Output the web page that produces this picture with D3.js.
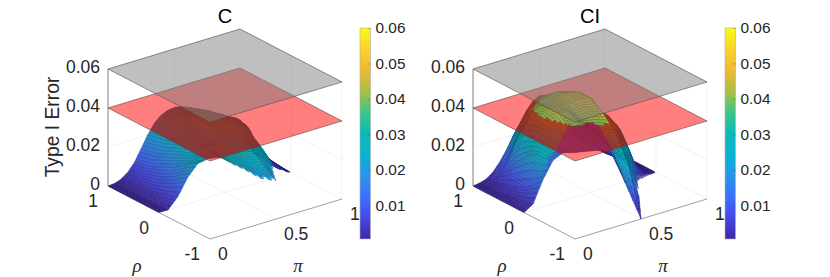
<!DOCTYPE html>
<html><head><meta charset="utf-8">
<script src="https://cdn.jsdelivr.net/npm/d3@7/dist/d3.min.js"></script>
<style>html,body{margin:0;background:#fff}svg{display:block}text{font-family:"Liberation Sans",Arial,sans-serif;fill:#262626}</style>
</head><body><svg id="c" width="830" height="277"></svg>
<script>
// --- data ---
const piValues=[0,.05,.1,.15,.2,.25,.3,.35,.4,.45,.5,.55,.6,.65,.7,.75,.8,.85,.9,.95,1];
const rhoLowerBound=[0,-.05,-.11,-.18,-.25,-.33,-.43,-.54,-.67,-.82,-1,-.82,-.67,-.54,-.43,-.33,-.25,-.18,-.11,-.05,0];
const rowFractions=[0,.125,.25,.375,.5,.625,.75,.875,1];
const errorC=[
[0,.001,.0075,.0175,.0245,.027,.028,.025,.0225,.0195,.0195,.02,.021,.019,.016,.013,.01,.007,.005,.002,0],
[0,.001,.006,.015,.022,.026,.028,.027,.026,.024,.024,.025,.025,.024,.018,.014,.010,.007,.005,.003,0],
[0,.0009,.005,.012,.019,.024,.028,.029,.029,.028,.029,.029,.029,.028,.022,.017,.012,.008,.006,.0035,0],
[0,.0008,.004,.010,.016,.022,.027,.029,.030,.031,.032,.032,.032,.031,.029,.025,.019,.013,.008,.004,0],
[0,.0007,.0035,.008,.014,.020,.026,.029,.031,.033,.034,.034,.033,.032,.030,.027,.022,.016,.010,.0045,0],
[0,.0006,.003,.007,.012,.018,.024,.028,.031,.033,.034,.034,.033,.031,.028,.024,.019,.013,.008,.0035,0],
[0,.0005,.0025,.006,.010,.016,.022,.027,.030,.032,.033,.033,.032,.029,.025,.020,.015,.010,.006,.0025,0],
[0,.0004,.002,.005,.009,.015,.021,.026,.029,.0305,.031,.031,.030,.027,.023,.018,.013,.009,.005,.002,0],
[0,.0003,.0015,.004,.008,.014,.020,.025,.028,.0295,.030,.0295,.028,.025,.021,.016,.011,.007,.004,.0015,0]];
const errorCI=[
[0,.004,.016,.026,.030,.030,.031,.032,.033,.017,0,.012,.011,.011,.008,.0065,.0046,.0035,.0023,.001,0],
[0,.003,.012,.025,.029,.034,.036,.037,.037,.030,.024,.024,.024,.024,.021,.016,.010,.006,.003,.001,0],
[0,.0025,.009,.025,.030,.037,.040,.041,.039,.038,.037,.037,.036,.033,.029,.024,.015,.009,.004,.0012,0],
[0,.002,.007,.023,.031,.039,.043,.044,.041,.043,.044,.040,.038,.036,.031,.024,.016,.008,.004,.0012,0],
[0,.0015,.005,.019,.030,.040,.043,.044,.045,.047,.048,.046,.039,.036,.029,.021,.013,.006,.003,.001,0],
[0,.0012,.004,.015,.028,.039,.042,.043,.045,.047,.048,.046,.040,.036,.028,.020,.012,.006,.0025,.0008,0],
[0,.001,.003,.010,.022,.030,.039,.041,.043,.045,.045,.043,.039,.033,.026,.018,.010,.005,.002,.0007,0],
[0,.0007,.002,.006,.012,.020,.030,.035,.038,.040,.040,.038,.034,.028,.022,.015,.009,.005,.002,.0006,0],
[0,.0005,.0015,.004,.008,.013,.019,.024,.030,.034,.036,.034,.030,.024,.019,.013,.008,.004,.0015,.0005,0]];
// part of the CI surface is painted in a low colour whatever its height
const ciLowColourRegion={rhoBelow:-.1,piBelow:.45,heightBelow:.04,value:.013};
const jaggedEdgeFromPi=[.3,.52];
const planeLevels=[.04,.06];
const planeFills=["#ff0000","#808080"];
const zTicks=[0,.02,.04,.06], zTickLabels=["0","0.02","0.04","0.06"];
const rhoTicks=[1,0,-1], rhoTickLabels=["1","0","-1"];
const piTicks=[0,.5,1], piTickLabels=["0","0.5","1"];
const barTicks=[.01,.02,.03,.04,.05,.06];
const parulaStops=[[62,38,168],[71,71,235],[62,111,255],[39,150,235],[8,180,208],[10,185,185],[60,198,135],[170,190,70],[240,185,50],[250,210,45],[249,251,21]];
const panels=[{title:"C",offset:0,values:errorC,low:null,jag:jaggedEdgeFromPi[0]},{title:"CI",offset:365,values:errorCI,low:ciLowColourRegion,jag:jaggedEdgeFromPi[1]}];

// --- scales ---
const xPi=d3.scaleLinear([0,1],[0,132]), yPi=d3.scaleLinear([0,1],[0,-40]);
const xRho=d3.scaleLinear([-1,1],[210,108]), yRho=d3.scaleLinear([-1,1],[239,186]);
const yZ=d3.scaleLinear([0,.06],[0,-117]);
const barY=d3.scaleLinear([.0005,.06],[239,28]);
const colour=d3.scaleLinear().domain(d3.range(11).map(i=>.0005+(.0595)*i/10)).range(parulaStops.map(c=>d3.rgb(...c))).interpolate(d3.interpolateRgb).clamp(true);
const px=(p,r)=>xPi(p)+xRho(r), py=(p,r,z)=>yPi(p)+yRho(r)+yZ(z);
const svg=d3.select("#c");
const defs=svg.append("defs");

// shading: each grid cell is painted with small facets, which also gives the dense mesh look
function facets(panel){
  const out=[],NP=4,NT=6,V=panel.values;
  for(let j=0;j<rowFractions.length-1;j++)for(let i=0;i<piValues.length-1;i++){
    const pa=piValues[i],pb=piValues[i+1];
    const rho=(ii,jj)=>rhoLowerBound[ii]+(1-rhoLowerBound[ii])*rowFractions[jj];
    for(let a=0;a<NP;a++)for(let b=0;b<NT;b++){
      const corner=(u,v)=>{
        const p=pa+(pb-pa)*u;
        const bl=(f)=>(f(i,j)*(1-u)+f(i+1,j)*u)*(1-v)+(f(i,j+1)*(1-u)+f(i+1,j+1)*u)*v;
        return {p,rho:bl(rho),z:bl((ii,jj)=>V[jj][ii])};
      };
      const cs=[corner(a/NP,b/NT),corner((a+1)/NP,b/NT),corner((a+1)/NP,(b+1)/NT),corner(a/NP,(b+1)/NT)];
      const m={p:d3.mean(cs,c=>c.p),rho:d3.mean(cs,c=>c.rho),z:d3.mean(cs,c=>c.z)};
      if(j===0&&b===0&&m.p>panel.jag&&a%2===1)continue; // saw-tooth edge of the grid
      let v=m.z;const L=panel.low;
      if(L&&m.rho<L.rhoBelow&&m.p<L.piBelow&&m.z<L.heightBelow)v=L.value;
      out.push({cs,z:m.z,v,depth:102*m.p+66*(m.rho+1)});
    }
  }
  return out.sort((a,b)=>b.depth-a.depth);
}
const facetPoints=(d,off)=>d.cs.map(c=>[+(px(c.p,c.rho)+off).toFixed(2),+py(c.p,c.rho,c.z).toFixed(2)]);
const sameWinding=pts=>d3.polygonArea(pts)<0?pts.slice().reverse():pts;
function drawFacets(g,data,off){
  g.selectAll("polygon").data(data).join("polygon")
   .attr("points",d=>facetPoints(d,off).map(c=>c.join(",")).join(" "))
   .attr("fill",d=>colour(d.v))
   .attr("stroke",d=>d3.color(colour(d.v)).darker(1.6))
   .attr("stroke-width",.4);
}
panels.forEach((panel,idx)=>{
  const off=panel.offset,g=svg.append("g");
  const line=(a,b,stroke,w)=>g.append("line").attr("x1",px(a[0],a[1])+off).attr("y1",py(...a)).attr("x2",px(b[0],b[1])+off).attr("y2",py(...b)).attr("stroke",stroke).attr("stroke-width",w);
  const grid="#ececec";
  zTicks.forEach(z=>{line([0,1,z],[1,1,z],grid,.7);line([1,1,z],[1,-1,z],grid,.7);});
  line([.5,1,0],[.5,1,.06],grid,.7);line([1,1,0],[1,1,.06],grid,.7);line([1,0,0],[1,0,.06],grid,.7);line([1,-1,0],[1,-1,.06],grid,.7);
  line([.5,1,0],[.5,-1,0],grid,.7);line([0,0,0],[1,0,0],grid,.7);
  line([0,1,0],[0,1,.06],"#808080",1);
  line([0,1,0],[0,-1,0],"#a0a0a0",1);line([0,-1,0],[1,-1,0],"#a0a0a0",1);
  const fs=facets(panel), low=fs.filter(d=>d.z<planeLevels[0]);
  drawFacets(g.append("g"),low,off);
  const corners=z=>[[0,1],[1,1],[1,-1],[0,-1]].map(c=>[px(c[0],c[1])+off,py(c[0],c[1],z)]);
  const plane=(z,fill)=>g.append("polygon").attr("points",corners(z).map(c=>c.join(",")).join(" "))
    .attr("fill",fill).attr("fill-opacity",.5).attr("stroke","#5a4a4a").attr("stroke-width",.6);
  plane(planeLevels[0],planeFills[0]);
  // the surface reads redder through the plane
  defs.append("clipPath").attr("id","pl"+idx).append("polygon").attr("points",corners(planeLevels[0]).map(c=>c.join(",")).join(" "));
  g.append("path").attr("clip-path",`url(#pl${idx})`).attr("fill","#8c1000").attr("fill-opacity",.28)
    .attr("d",low.map(d=>"M"+sameWinding(facetPoints(d,off)).join("L")+"Z").join(""));
  drawFacets(g.append("g"),fs.filter(d=>d.z>=planeLevels[0]),off);
  plane(planeLevels[1],planeFills[1]);
  zTicks.forEach((z,i)=>g.append("text").attr("x",100+off).attr("y",py(0,1,z)-2.5).attr("text-anchor","end").attr("dominant-baseline","central").attr("font-size",17.5).text(zTickLabels[i]));
  rhoTicks.forEach((r,i)=>g.append("text").attr("x",px(0,r)-10+off).attr("y",py(0,r,0)+15).attr("text-anchor","end").attr("dominant-baseline","central").attr("font-size",17.5).text(rhoTickLabels[i]));
  piTicks.forEach((p,i)=>g.append("text").attr("x",px(p,-1)+8+off).attr("y",py(p,-1,0)+15).attr("text-anchor","start").attr("dominant-baseline","central").attr("font-size",17.5).text(piTickLabels[i]));
  g.append("text").attr("x",225+off).attr("y",16).attr("text-anchor","middle").attr("dominant-baseline","central").attr("font-size",20).style("fill","#000").text(panel.title);
  g.append("text").attr("x",137+off).attr("y",265).attr("text-anchor","middle").attr("dominant-baseline","central").attr("font-size",19).style("font-family","'Liberation Serif',serif").style("font-style","italic").text("ρ");
  g.append("text").attr("x",298+off).attr("y",265).attr("text-anchor","middle").attr("dominant-baseline","central").attr("font-size",19).style("font-family","'Liberation Serif',serif").style("font-style","italic").text("π");
  if(idx===0)g.append("text").attr("transform","translate(52,127) rotate(-90)").attr("text-anchor","middle").attr("dominant-baseline","central").attr("font-size",19.3).text("Type I Error");
  const grad=defs.append("linearGradient").attr("id","bar"+idx).attr("x1",0).attr("x2",0).attr("y1",1).attr("y2",0);
  colour.domain().forEach((d,i)=>grad.append("stop").attr("offset",i*10+"%").attr("stop-color",colour(d)));
  g.append("rect").attr("x",360+off).attr("y",barY(.06)).attr("width",10.5).attr("height",barY(.0005)-barY(.06)).attr("fill",`url(#bar${idx})`).attr("stroke","#b0b0b0").attr("stroke-width",.6);
  const ax=g.append("g").attr("transform",`translate(${370.5+off},0)`).call(d3.axisRight(barY).tickValues(barTicks).tickFormat(d3.format(".2f")).tickSize(-2).tickPadding(4));
  ax.select(".domain").remove();
  ax.selectAll("line").attr("stroke","#555").attr("stroke-width",.5);
  ax.selectAll("text").attr("font-size",15.4).attr("font-family",null).attr("x",5);
});
</script></body></html>
